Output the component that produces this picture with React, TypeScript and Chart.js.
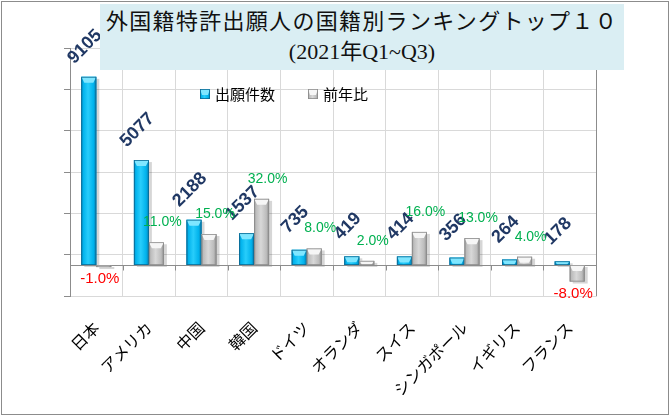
import { useEffect, useRef } from 'react';
import { Chart, registerables } from 'chart.js';

Chart.register(...registerables);

const categories = ['日本', 'アメリカ', '中国', '韓国', 'ドイツ', 'オランダ', 'スイス', 'シンガポール', 'イギリス', 'フランス'];
const applications = [9105, 5077, 2188, 1537, 735, 419, 414, 356, 264, 178];
const yoyChange = [-1.0, 11.0, 15.0, 32.0, 8.0, 2.0, 16.0, 13.0, 4.0, -8.0];
const seriesNames = ['出願件数', '前年比'];

const titleLine1 = '外国籍特許出願人の国籍別ランキングトップ１０';
const titleLine2 = '(2021年Q1~Q3)';

// 3D-ish look like the Excel bar shapes
const barLooks = [
  { edge: '#0a78a8', body: '#00b2ec', light: '#28cdfb', cap: '#7fe6ff', line: '#0b6a94' },
  { edge: '#8a8a8a', body: '#bcbcbc', light: '#d8d8d8', cap: '#f6f6f6', line: '#8c8c8c' },
];

function drawBevelBar(ctx: CanvasRenderingContext2D, left: number, top: number, w: number, h: number, look: typeof barLooks[0]) {
  const g = ctx.createLinearGradient(left, 0, left + w, 0);
  g.addColorStop(0, look.edge);
  g.addColorStop(0.12, look.body);
  g.addColorStop(0.45, look.light);
  g.addColorStop(0.82, look.body);
  g.addColorStop(1, look.edge);
  ctx.fillStyle = g;
  ctx.fillRect(left, top, w, h);
  const cap = Math.min(6, h);
  if (cap > 0) {
    ctx.beginPath();
    ctx.moveTo(left, top);
    ctx.lineTo(left + w, top);
    ctx.lineTo(left + w * 0.8, top + cap);
    ctx.lineTo(left + w * 0.2, top + cap);
    ctx.closePath();
    ctx.fillStyle = look.cap;
    ctx.fill();
  }
  ctx.strokeStyle = look.line;
  ctx.lineWidth = 0.8;
  ctx.strokeRect(left + 0.4, top + 0.4, w - 0.8, Math.max(h - 0.8, 0));
}

const bevelBars = {
  id: 'bevelBars',
  beforeDatasetsDraw(chart: any) {
    const { ctx, chartArea, scales } = chart;
    ctx.save();
    // drop shadows
    chart.data.datasets.forEach((_: any, di: number) => {
      chart.getDatasetMeta(di).data.forEach((el: any) => {
        const { x, y, base, width } = el.getProps(['x', 'y', 'base', 'width'], true);
        const top = Math.min(y, base);
        ctx.fillStyle = 'rgba(0,0,0,0.16)';
        ctx.fillRect(x - width / 2 + 3, top + 2, width, Math.abs(base - y));
      });
    });
    // zero line of the category axis and its tick marks
    const zy = Math.round(scales.y.getPixelForValue(0)) + 0.5;
    ctx.strokeStyle = '#8c8c8c';
    ctx.lineWidth = 1;
    ctx.beginPath();
    ctx.moveTo(chartArea.left, zy);
    ctx.lineTo(chartArea.right, zy);
    const n = categories.length;
    const step = (chartArea.right - chartArea.left) / n;
    for (let i = 1; i < n; i++) {
      const tx = Math.round(chartArea.left + i * step) + 0.5;
      ctx.moveTo(tx, zy);
      ctx.lineTo(tx, zy + 5);
    }
    ctx.stroke();
    ctx.restore();
  },
  afterDatasetsDraw(chart: any) {
    const { ctx, chartArea } = chart;
    ctx.save();
    chart.data.datasets.forEach((_: any, di: number) => {
      chart.getDatasetMeta(di).data.forEach((el: any) => {
        const { x, y, base, width } = el.getProps(['x', 'y', 'base', 'width'], true);
        const top = Math.min(y, base);
        drawBevelBar(ctx, x - width / 2, top, width, Math.abs(base - y), barLooks[di]);
      });
    });
    // right frame of the plot area
    ctx.strokeStyle = '#8c8c8c';
    ctx.lineWidth = 1;
    ctx.beginPath();
    ctx.moveTo(Math.round(chartArea.right) + 0.5, chartArea.top);
    ctx.lineTo(Math.round(chartArea.right) + 0.5, chartArea.bottom);
    ctx.stroke();
    ctx.restore();
  },
};

const valueLabels = {
  id: 'valueLabels',
  afterDatasetsDraw(chart: any) {
    const { ctx } = chart;
    ctx.save();
    ctx.textAlign = 'center';
    ctx.textBaseline = 'middle';
    // counts, rotated
    chart.getDatasetMeta(0).data.forEach((el: any, i: number) => {
      const { x, y } = el.getProps(['x', 'y'], true);
      ctx.save();
      ctx.translate(x - 4, y - 30);
      ctx.rotate(-Math.PI / 4);
      ctx.font = 'bold 18px "Liberation Sans", Arial, sans-serif';
      ctx.fillStyle = '#203864';
      ctx.fillText(String(applications[i]), 0, 0);
      ctx.restore();
    });
    // year-on-year percentages
    chart.getDatasetMeta(1).data.forEach((el: any, i: number) => {
      const { x, y, base } = el.getProps(['x', 'y', 'base'], true);
      const v = yoyChange[i];
      const text = v.toFixed(1) + '%';
      if (v < 0) {
        ctx.font = '15px "Liberation Sans", Arial, sans-serif';
        ctx.fillStyle = '#ff0000';
        ctx.fillText(text, x - 4, Math.max(y, base) + 12);
      } else {
        ctx.font = '14px "Liberation Sans", Arial, sans-serif';
        ctx.fillStyle = '#00b050';
        ctx.fillText(text, x + 6, Math.min(y, base) - 20);
      }
    });
    ctx.restore();
  },
};

const legendBox = {
  id: 'legendBox',
  afterDraw(chart: any) {
    const { ctx } = chart;
    const items = [
      { x: 200, name: seriesNames[0], look: barLooks[0] },
      { x: 308, name: seriesNames[1], look: barLooks[1] },
    ];
    ctx.save();
    items.forEach((it) => {
      drawBevelBar(ctx, it.x, 89, 10, 10, it.look);
      ctx.font = '15px "Noto Sans CJK JP", sans-serif';
      ctx.fillStyle = '#000';
      ctx.textAlign = 'left';
      ctx.textBaseline = 'middle';
      ctx.fillText(it.name, it.x + 15, 94);
    });
    ctx.restore();
  },
};

export default function App() {
  const canvasRef = useRef<HTMLCanvasElement>(null);

  useEffect(() => {
    if (!canvasRef.current) return;
    const chart = new Chart(canvasRef.current, {
      type: 'bar',
      data: {
        labels: categories,
        datasets: [
          {
            label: seriesNames[0],
            data: applications,
            yAxisID: 'y',
            backgroundColor: barLooks[0].body,
            categoryPercentage: 0.57,
            barPercentage: 1,
          },
          {
            label: seriesNames[1],
            data: yoyChange,
            yAxisID: 'y1',
            backgroundColor: barLooks[1].body,
            categoryPercentage: 0.57,
            barPercentage: 1,
          },
        ],
      },
      options: {
        responsive: false,
        animation: false,
        layout: { padding: { top: 48, right: 74, left: 0, bottom: 0 } },
        plugins: {
          legend: { display: false },
          tooltip: { enabled: false },
        },
        scales: {
          x: {
            grid: { color: '#d9d9d9', offset: true, drawTicks: false },
            border: { color: '#d9d9d9' },
            ticks: {
              autoSkip: false,
              maxRotation: 45,
              minRotation: 45,
              padding: 22,
              color: '#000',
              font: { family: '"Noto Sans CJK JP", sans-serif', size: 16 },
            },
            afterFit: (s: any) => {
              s.height = 120;
            },
          },
          y: {
            position: 'left',
            min: -1500,
            max: 10500,
            ticks: { display: false, stepSize: 2000 },
            grid: { color: '#d9d9d9', tickColor: '#8c8c8c', tickLength: 6 },
            border: { color: '#8c8c8c' },
            afterFit: (s: any) => {
              s.width = 70;
            },
          },
          y1: {
            position: 'right',
            display: false,
            min: -15,
            max: 105,
            grid: { drawOnChartArea: false },
          },
        },
      },
      plugins: [bevelBars, valueLabels, legendBox],
    });
    return () => chart.destroy();
  }, []);

  return (
    <div style={{ position: 'fixed', left: 0, top: 0, width: 670, height: 416, background: '#fff' }}>
      <canvas ref={canvasRef} width={670} height={416} style={{ position: 'absolute', left: 0, top: 0 }} />
      <div
        style={{
          position: 'absolute',
          left: 100,
          top: 4,
          width: 524,
          height: 66,
          background: '#daeef3',
          textAlign: 'center',
          color: '#111',
          fontFamily: '"Liberation Serif", "Noto Sans CJK JP", serif',
        }}
      >
        <div style={{ fontSize: 22, lineHeight: '32px', paddingTop: 2, letterSpacing: 1.3 }}>{titleLine1}</div>
        <div style={{ fontSize: 22, lineHeight: '28px' }}>{titleLine2}</div>
      </div>
      <div
        style={{
          position: 'absolute',
          left: 1,
          top: 1,
          width: 668,
          height: 414,
          boxSizing: 'border-box',
          border: '1px solid #8c8c8c',
          pointerEvents: 'none',
        }}
      />
    </div>
  );
}
